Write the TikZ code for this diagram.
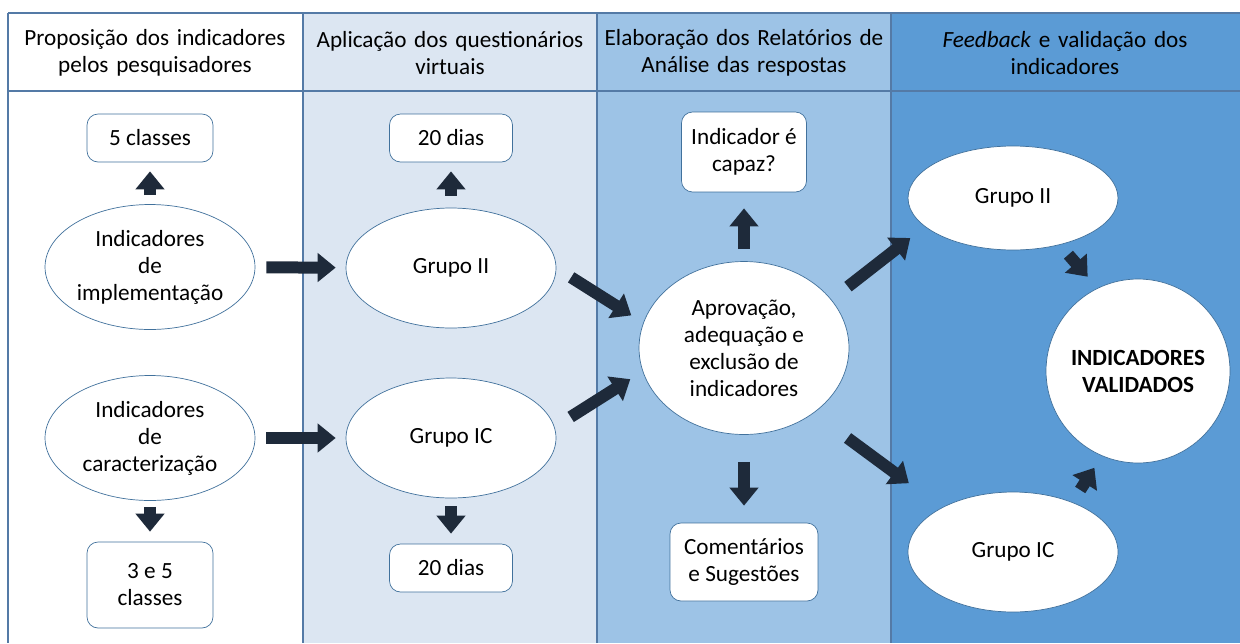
\documentclass[tikz,border=0pt]{standalone}
\usepackage{fontspec}
\setmainfont{Carlito}
\usetikzlibrary{
  positioning,
  calc,
  arrows.meta,
  shapes.geometric
}
\definecolor{colA}{RGB}{255,255,255}
\definecolor{colB}{RGB}{220,230,242}
\definecolor{colC}{RGB}{157,195,230}
\definecolor{colD}{RGB}{91,155,213}
\definecolor{rulecol}{RGB}{84,122,166}
\definecolor{edgecol}{RGB}{65,113,156}
\definecolor{navy}{RGB}{30,42,58}

\begin{document}
\begin{tikzpicture}[
      x=0.02cm, y=-0.02cm,
      every node/.style={font=\fontsize{13.2}{15.4}\selectfont},
      head/.style={align=center, text width=5.9cm},
      ellnode/.style={ellipse, draw=edgecol, fill=white, align=center, inner sep=0pt},
      boxnode/.style={rounded corners=0.22cm, draw=edgecol, fill=white, align=center, inner sep=0pt},
      blk/.style={navy, line width=0.24cm, -{Triangle[width=0.56cm, length=0.36cm]}}
    ]
      \useasboundingbox (0,0) rectangle (1240,643);

      % Columns
      \fill[colB] (303,13) rectangle (597,643);
      \fill[colC] (597,13) rectangle (891,643);
      \fill[colD] (891,13) rectangle (1240,643);
      \draw[rulecol, line width=1.5pt] (8,13) -- (1240,13);
      \draw[rulecol, line width=1pt] (8,91) -- (1240,91);
      \foreach \xc in {8,303,597,891}
        \draw[rulecol, line width=0.8pt] (\xc,13) -- (\xc,643);

      % Headers
      \node[head] (h1) at (155,53) {Proposição dos indicadores\\pelos pesquisadores};
      \node[head] (h2) at (450,53) {Aplicação dos questionários\\virtuais};
      \node[head] (h3) at (744,53) {Elaboração dos Relatórios de\\Análise das respostas};
      \node[head] (h4) at (1065,53) {\textit{Feedback} e validação dos\\indicadores};

      % Nodes
      \node[ellnode, minimum width=4.2cm, minimum height=2.5cm] (impl) at (150,267) {Indicadores\\de\\implementação};
      \node[ellnode, minimum width=4.2cm, minimum height=2.5cm] (carac) at (150,438) {Indicadores\\de\\caracterização};
      \node[boxnode, minimum width=2.52cm, minimum height=0.96cm] (cl5) at (150,138) {5 classes};
      \node[boxnode, minimum width=2.52cm, minimum height=1.72cm] (cl35) at (150,585) {3 e 5\\classes};

      \node[ellnode, minimum width=4.2cm, minimum height=2.4cm] (g2a) at (451,268) {Grupo II};
      \node[ellnode, minimum width=4.2cm, minimum height=2.4cm] (gica) at (451,438) {Grupo IC};
      \node[boxnode, minimum width=2.46cm, minimum height=0.96cm] (d20a) at (451,138) {20 dias};
      \node[boxnode, minimum width=2.46cm, minimum height=0.96cm] (d20b) at (451,568) {20 dias};

      \node[ellnode, minimum width=4.2cm, minimum height=3.46cm] (apr) at (744,348) {Aprovação,\\adequação e\\exclusão de\\indicadores};
      \node[boxnode, minimum width=2.5cm, minimum height=1.6cm] (cap) at (744,152) {Indicador é\\capaz?};
      \node[boxnode, minimum width=2.96cm, minimum height=1.56cm] (com) at (744,562) {Comentários\\e Sugestões};

      \node[ellnode, minimum width=4.2cm, minimum height=2.08cm] (g2b) at (1013,198) {Grupo II};
      \node[ellnode, minimum width=4.2cm, minimum height=2.4cm] (gicb) at (1013,552) {Grupo IC};
      \node[circle, draw=edgecol, fill=white, minimum size=3.68cm, align=center, inner sep=0pt] (val) at (1138,371) {\textbf{INDICADORES}\\\textbf{VALIDADOS}};

      % Arrows
      \draw[blk, shorten <=0.18cm, shorten >=0.18cm] (impl) -- (cl5);
      \draw[blk, shorten <=0.12cm, shorten >=0.2cm] (carac) -- (cl35);
      \draw[blk, shorten <=0.22cm, shorten >=0.2cm] (impl) -- (g2a);
      \draw[blk, shorten <=0.22cm, shorten >=0.2cm] (carac) -- (gica);
      \draw[blk, shorten <=0.24cm, shorten >=0.18cm] (g2a) -- (d20a);
      \draw[blk, shorten <=0.16cm, shorten >=0.2cm] (gica) -- (d20b);
      \draw[blk, shorten <=0.35cm, shorten >=0.28cm] (g2a.east) -- (apr.166);
      \draw[blk, shorten <=0.38cm, shorten >=0.29cm] (gica.6) -- (apr.193);
      \draw[blk, shorten <=0.24cm, shorten >=0.32cm] (apr) -- (cap);
      \draw[blk, shorten <=0.54cm, shorten >=0.34cm] (apr) -- (com);
      \draw[blk, shorten <=0.42cm, shorten >=0.37cm] (apr.29) -- (g2b.198);
      \draw[blk, shorten <=0.84cm, shorten >=0.82cm] (apr.317) -- (gicb.148);
      \draw[blk, shorten <=0.26cm, shorten >=0.3cm] (g2b.315) -- (val.116);
      \draw[blk, shorten <=0.29cm, shorten >=0.28cm] (gicb.40) -- (val.247);
    \end{tikzpicture}
\end{document}
